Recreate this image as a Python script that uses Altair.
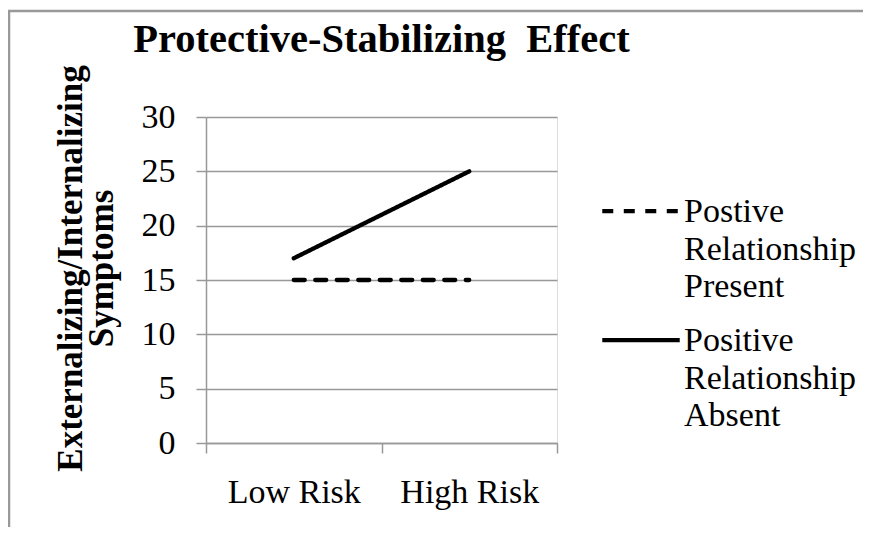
import altair as alt
import pandas as pd

risk = ["Low Risk", "High Risk"]
series_names = ["Postive|Relationship|Present", "Positive|Relationship|Absent"]
present_vals = [15, 15]
absent_vals = [17, 25]

rows = []
for r, v in zip(risk, present_vals):
    rows.append({"risk": r, "group": series_names[0], "value": v})
for r, v in zip(risk, absent_vals):
    rows.append({"risk": r, "group": series_names[1], "value": v})
df = pd.DataFrame(rows)

FONT = "Liberation Serif"
GRID = "#999999"

lines = alt.Chart(df).mark_line(color="black", strokeWidth=4.3, strokeCap="round").encode(
    x=alt.X("risk:N", sort=risk,
            scale=alt.Scale(domain=risk, paddingInner=0, paddingOuter=0),
            axis=alt.Axis(title=None, labelAngle=0, tickBand="extent", grid=False,
                          labelFontSize=34, labelFont=FONT, labelColor="black",
                          labelPadding=22, tickSize=10, tickColor=GRID,
                          domainColor=GRID, domainWidth=1.5, tickWidth=1.5)),
    y=alt.Y("value:Q",
            scale=alt.Scale(domain=[0, 30], nice=False),
            axis=alt.Axis(values=[0, 5, 10, 15, 20, 25, 30],
                          title=["Externalizing/Internalizing", "Symptoms"],
                          titleFont=FONT, titleFontSize=35, titleFontWeight="bold",
                          titleColor="black", titleAngle=-90, titleBaseline="alphabetic",
                          titleAlign="center", titleX=-125, titleY=151, titleLineHeight=31,
                          labelFontSize=34, labelFont=FONT, labelColor="black",
                          labelPadding=21, tickSize=10, tickColor=GRID, tickWidth=1.5,
                          domainColor=GRID, domainWidth=1.5,
                          gridColor=GRID, gridWidth=1.5)),
    strokeDash=alt.StrokeDash("group:N", sort=series_names,
                              scale=alt.Scale(domain=series_names,
                                              range=[[11, 10.5], [1, 0]]),
                              legend=alt.Legend(title=None, orient="none",
                                                legendX=394, legendY=64,
                                                labelExpr="split(datum.label, '|')",
                                                labelFont=FONT, labelFontSize=34,
                                                labelColor="black", labelLimit=0,
                                                labelBaseline="alphabetic",
                                                labelOffset=2,
                                                symbolType="M-1,-0.28L1,-0.28",
                                                symbolSize=6000,
                                                symbolStrokeWidth=4.3,
                                                symbolStrokeColor="black",
                                                rowPadding=6, padding=0)),
)

frame = alt.Chart(pd.DataFrame({"f": [0]})).mark_rect(
    fill="transparent", stroke="#999999", strokeWidth=2.5
).encode(
    x=alt.value(-197), x2=alt.value(800),
    y=alt.value(-106), y2=alt.value(600),
)

chart = alt.layer(frame, lines).properties(
    width=351, height=326,
    padding={"left": 198, "top": 109, "right": 306, "bottom": 84},
    autosize=alt.AutoSizeParams(type="none"),
    title=alt.TitleParams("Protective-Stabilizing\u00a0 Effect", font=FONT, fontSize=40.5,
                          fontWeight="bold", color="black", anchor="middle", offset=0,
                          dy=51),
).configure_view(stroke="transparent").configure(
    style={"guide-label": {"lineHeight": 37.5}}
)

chart.save("out.html", embed_options={"renderer": "svg", "actions": False})
